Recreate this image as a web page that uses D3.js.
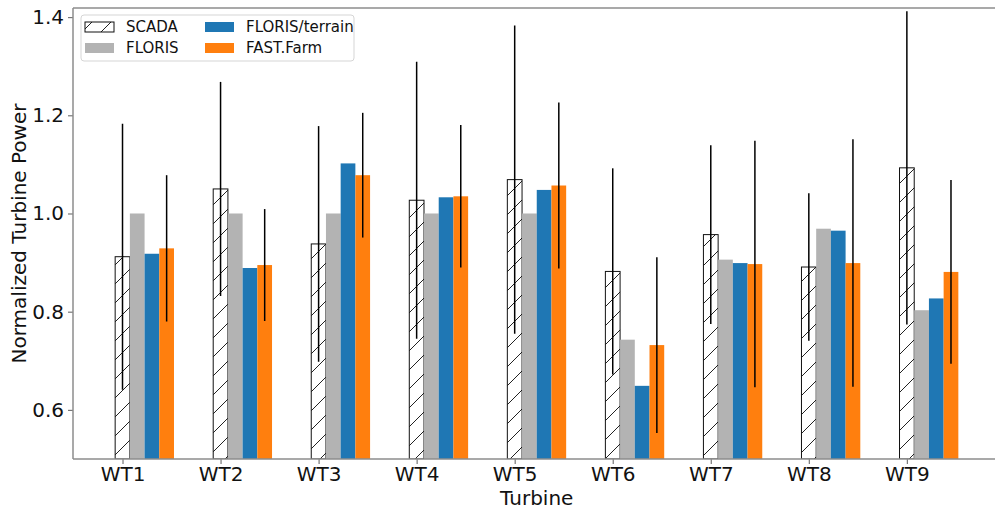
<!DOCTYPE html>
<html>
<head>
<meta charset="utf-8">
<script src="https://cdn.jsdelivr.net/npm/d3@7"></script>
<style>
  body { margin: 0; background: #fff; }
  svg { font-family: "DejaVu Sans", sans-serif; }
</style>
</head>
<body>
<svg id="chart" width="995" height="510"></svg>
<script>
// values
let turbines = ["WT1", "WT2", "WT3", "WT4", "WT5", "WT6", "WT7", "WT8", "WT9"];
let scada = [0.912, 1.050, 0.938, 1.027, 1.069, 0.882, 0.957, 0.891, 1.093];
let scadaErr = [0.271, 0.218, 0.240, 0.282, 0.314, 0.210, 0.182, 0.150, 0.319];
let floris = [1.0, 1.0, 1.0, 1.0, 1.0, 0.743, 0.906, 0.969, 0.803];
let florisTerrain = [0.918, 0.889, 1.102, 1.033, 1.048, 0.649, 0.899, 0.965, 0.827];
let fastFarm = [0.929, 0.895, 1.078, 1.035, 1.057, 0.732, 0.897, 0.899, 0.881];
let fastErr = [0.149, 0.114, 0.127, 0.145, 0.169, 0.179, 0.251, 0.252, 0.187];
let yTicks = [0.6, 0.8, 1.0, 1.2, 1.4];

let seriesNames = ["SCADA", "FLORIS", "FLORIS/terrain", "FAST.Farm"];
let seriesColors = ["white", "#b3b3b3", "#1f77b4", "#ff7f0e"];

const svg = d3.select("#chart");
const margin = { left: 73, top: 8, right: 1000.5, bottom: 459 };
const barW = 0.15;

let xScale = d3.scaleLinear().domain([-0.505, 8.955]).range([margin.left, margin.right]);
let yScale = d3.scaleLinear().domain([0.5, 1.4185]).range([margin.bottom, margin.top]);

// hatch for scada bars
let defs = svg.append("defs");
let pat = defs.append("pattern")
  .attr("id", "hatch")
  .attr("patternUnits", "userSpaceOnUse")
  .attr("width", 19).attr("height", 19);
pat.append("rect").attr("width", 19).attr("height", 19).attr("fill", "white");
pat.append("path")
  .attr("d", "M-2,2 L2,-2 M0,19 L19,0 M17,21 L21,17")
  .attr("stroke", "#222").attr("stroke-width", 1);

svg.append("clipPath").attr("id", "plotClip")
  .append("rect")
  .attr("x", margin.left).attr("y", margin.top)
  .attr("width", margin.right - margin.left).attr("height", margin.bottom - margin.top);

let plot = svg.append("g").attr("clip-path", "url(#plotClip)");

let allSeries = [scada, floris, florisTerrain, fastFarm];
allSeries.forEach(function(vals, s) {
  plot.append("g").selectAll("rect")
    .data(vals)
    .enter()
    .append("rect")
      .attr("x", (d, i) => xScale(i + s * barW - barW / 2))
      .attr("width", xScale(barW) - xScale(0))
      .attr("y", d => yScale(d))
      .attr("height", d => margin.bottom - yScale(d))
      .attr("fill", s == 0 ? "url(#hatch)" : seriesColors[s])
      .attr("stroke", s == 0 ? "#111" : "none")
      .attr("stroke-width", 1);
});

// error bars
function errBars(vals, errs, offset) {
  plot.append("g").selectAll("line")
    .data(vals)
    .enter()
    .append("line")
      .attr("x1", (d, i) => xScale(i + offset))
      .attr("x2", (d, i) => xScale(i + offset))
      .attr("y1", (d, i) => yScale(d - errs[i]))
      .attr("y2", (d, i) => yScale(d + errs[i]))
      .attr("stroke", "black")
      .attr("stroke-width", 1.5);
}
errBars(scada, scadaErr, 0);
errBars(fastFarm, fastErr, 3 * barW);

// axes
let yAxis = svg.append("g")
  .attr("transform", `translate(${margin.left},0)`)
  .call(d3.axisLeft(yScale).tickValues(yTicks).tickFormat(d3.format(".1f")).tickSizeOuter(0).tickSize(5).tickPadding(4));
let xAxis = svg.append("g")
  .attr("transform", `translate(0,${margin.bottom})`)
  .call(d3.axisBottom(xScale).tickValues(d3.range(turbines.length)).tickFormat(i => turbines[i]).tickSizeOuter(0).tickSize(5).tickPadding(3));

[yAxis, xAxis].forEach(function(a) {
  a.select(".domain").remove();
  a.selectAll(".tick line").attr("stroke", "#777").attr("stroke-width", 1.2);
  a.selectAll(".tick text").attr("fill", "#111").style("font-size", "20px").style("font-family", "DejaVu Sans");
});

// spines
svg.append("line").attr("x1", margin.left).attr("x2", margin.left)
  .attr("y1", margin.top).attr("y2", margin.bottom)
  .attr("stroke", "#8c8c8c").attr("stroke-width", 1.5);
svg.append("line").attr("x1", margin.left).attr("x2", 995)
  .attr("y1", margin.bottom).attr("y2", margin.bottom)
  .attr("stroke", "#8c8c8c").attr("stroke-width", 1.5);
svg.append("line").attr("x1", margin.left).attr("x2", 995)
  .attr("y1", margin.top).attr("y2", margin.top)
  .attr("stroke", "#8c8c8c").attr("stroke-width", 1.5);

// labels
svg.append("text")
  .attr("x", (margin.left + margin.right) / 2)
  .attr("y", 505)
  .attr("text-anchor", "middle")
  .style("font-size", "20px")
  .attr("fill", "#111")
  .text("Turbine");

svg.append("text")
  .attr("transform", `translate(26,${(margin.top + margin.bottom) / 2}) rotate(-90)`)
  .attr("text-anchor", "middle")
  .style("font-size", "20px")
  .attr("fill", "#111")
  .text("Normalized Turbine Power");

// legend
let legend = svg.append("g");
legend.append("rect")
  .attr("x", 81).attr("y", 15).attr("width", 273).attr("height", 46)
  .attr("rx", 3)
  .attr("fill", "white").attr("fill-opacity", 0.8)
  .attr("stroke", "#d5d5d5");

let legPos = [[85, 22], [85, 43], [205, 22], [205, 43]];
seriesNames.forEach(function(name, s) {
  legend.append("rect")
    .attr("x", legPos[s][0]).attr("y", legPos[s][1])
    .attr("width", 29).attr("height", 10)
    .attr("fill", s == 0 ? "url(#hatch)" : seriesColors[s])
    .attr("stroke", s == 0 ? "#111" : "none");
  legend.append("text")
    .attr("x", legPos[s][0] + 41).attr("y", legPos[s][1] + 5)
    .attr("dy", "0.35em")
    .style("font-size", "15px")
    .attr("fill", "#111")
    .text(name);
});
</script>
</body>
</html>
